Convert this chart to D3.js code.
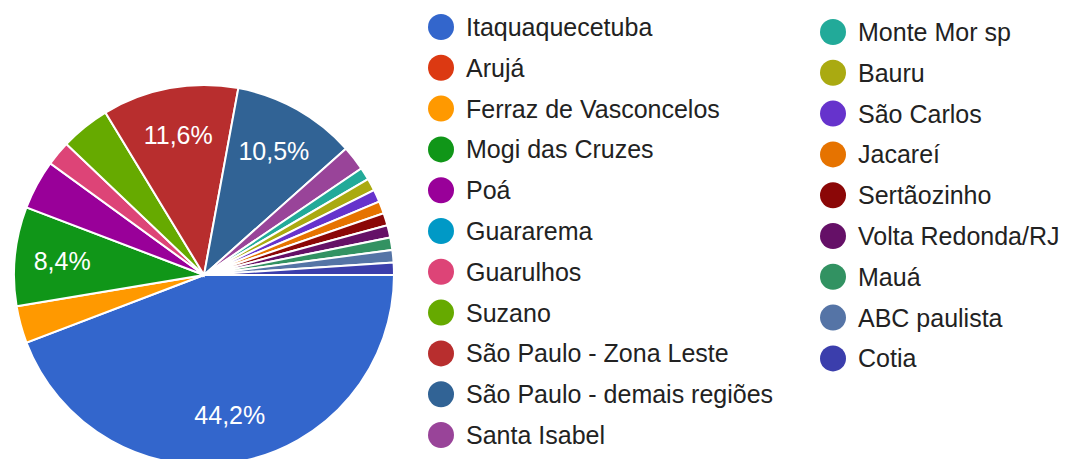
<!DOCTYPE html>
<html lang="pt">
  <head>
    <meta charset="UTF-8" />
    <title>Cidades</title>
    <script src="https://cdn.jsdelivr.net/npm/d3@7"></script>
    <style>
      body { margin: 0; background: #fff; }
      svg { display: block; font-family: Arial, "Liberation Sans", sans-serif; }
    </style>
  </head>
  <body>
    <div class="chart"></div>
    <script>
    // respostas por cidade (95 no total)
    var cities = ["Itaquaquecetuba", "Arujá", "Ferraz de Vasconcelos", "Mogi das Cruzes", "Poá",
                  "Guararema", "Guarulhos", "Suzano", "São Paulo - Zona Leste", "São Paulo - demais regiões",
                  "Santa Isabel", "Monte Mor sp", "Bauru", "São Carlos", "Jacareí",
                  "Sertãozinho", "Volta Redonda/RJ", "Mauá", "ABC paulista", "Cotia"];
    var counts = [42, 0, 3, 8, 4, 0, 2, 4, 11, 10, 2, 1, 1, 1, 1, 1, 1, 1, 1, 1];
    var colors = ["#3366cc", "#dc3912", "#ff9900", "#109618", "#990099",
                  "#0099c6", "#dd4477", "#66aa00", "#b82e2e", "#316395",
                  "#994499", "#22aa99", "#aaaa11", "#6633cc", "#e67300",
                  "#8b0707", "#651067", "#329262", "#5574a6", "#3b3eac"];

    var w = 1068, h = 459;
    var cx = 204, cy = 275, r = 190;

    var svg = d3.select(".chart").append("svg")
                .attr("width", w)
                .attr("height", h);

    var data = cities.map(function(c, i) {
      return { name: c, value: counts[i], color: colors[i] };
    });
    var total = d3.sum(counts);

    var pie = d3.pie()
                .value(function(d) { return d.value; })
                .sort(null)
                .startAngle(Math.PI / 2)
                .endAngle(Math.PI / 2 + 2 * Math.PI);

    var arc = d3.arc().innerRadius(0).outerRadius(r);
    var labelArc = d3.arc().innerRadius(r * 0.75).outerRadius(r * 0.75);

    var slices = pie(data).filter(function(d) { return d.data.value > 0; });

    var g = svg.append("g").attr("transform", "translate(" + cx + "," + cy + ")");

    g.selectAll("path")
     .data(slices)
     .enter()
     .append("path")
     .attr("d", arc)
     .attr("fill", function(d) { return d.data.color; })
     .attr("stroke", "#fff")
     .attr("stroke-width", 2);

    var fmt = function(v) {
      return (v * 100).toFixed(1).replace(".", ",") + "%";
    };

    g.selectAll("text.pct")
     .data(slices.filter(function(d) { return d.data.value / total > 0.05; }))
     .enter()
     .append("text")
     .attr("class", "pct")
     .attr("transform", function(d) { return "translate(" + labelArc.centroid(d) + ")"; })
     .attr("text-anchor", "middle")
     .attr("dy", "0.36em")
     .attr("fill", "#fff")
     .style("font-size", "25px")
     .text(function(d) { return fmt(d.data.value / total); });

    // legenda em duas colunas
    var colX = [441, 833], colY = [27, 32], rowH = 40.8, perCol = 11;

    var legend = svg.selectAll("g.legend")
                    .data(data)
                    .enter().append("g")
                    .attr("class", "legend")
                    .attr("transform", function(d, i) {
                      var c = i < perCol ? 0 : 1;
                      var row = i < perCol ? i : i - perCol;
                      return "translate(" + colX[c] + "," + (colY[c] + row * rowH) + ")";
                    });

    legend.append("circle")
          .attr("r", 13)
          .attr("fill", function(d) { return d.color; });

    legend.append("text")
          .attr("x", 25)
          .attr("dy", "0.36em")
          .attr("fill", "#222")
          .style("font-size", "25px")
          .text(function(d) { return d.name; });
    </script>
  </body>
</html>
